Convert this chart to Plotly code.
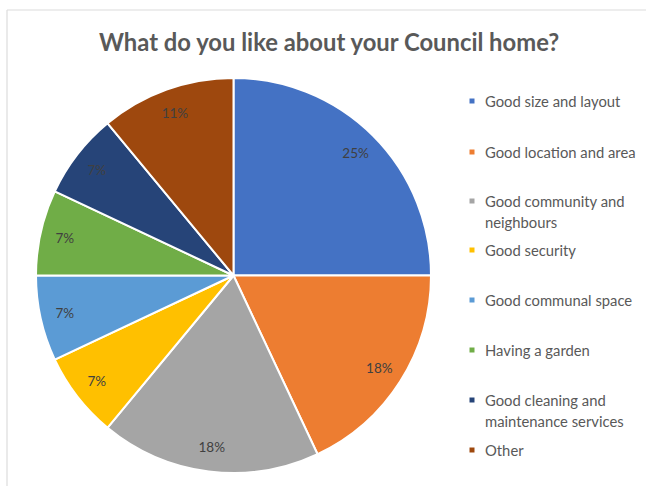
import plotly.graph_objects as go

# Survey responses: what residents like about their Council home (percent)
categories = [
    "Good size and layout",
    "Good location and area",
    "Good community and neighbours",
    "Good security",
    "Good communal space",
    "Having a garden",
    "Good cleaning and maintenance services",
    "Other",
]
legend_lines = [
    ["Good size and layout"],
    ["Good location and area"],
    ["Good community and", "neighbours"],
    ["Good security"],
    ["Good communal space"],
    ["Having a garden"],
    ["Good cleaning and", "maintenance services"],
    ["Other"],
]
shares = [25, 18, 18, 7, 7, 7, 7, 11]
colors = ["#4472C4", "#ED7D31", "#A5A5A5", "#FFC000",
          "#5B9BD5", "#70AD47", "#264478", "#9E480E"]

W, H = 646, 486
FONT = "Lato"
cx, cy, r = 233.5, 275.5, 197.5

def px(x):
    return x / W

def py(y):
    return 1 - y / H

domain = dict(x=[px(cx - r), px(cx + r)], y=[py(cy + r), py(cy - r)])

fig = go.Figure()

# Solid slices
fig.add_trace(go.Pie(
    labels=categories, values=shares, sort=False, direction="clockwise",
    rotation=0, domain=domain,
    marker=dict(colors=colors, line=dict(color="white", width=2)),
    textinfo="none", hoverinfo="label+percent", showlegend=False,
))

# Transparent ring carrying the percentage labels near the outer edge
fig.add_trace(go.Pie(
    labels=categories, values=shares, sort=False, direction="clockwise",
    rotation=0, domain=domain, hole=0.75,
    marker=dict(colors=["rgba(0,0,0,0)"] * len(shares),
                line=dict(color="rgba(0,0,0,0)", width=0)),
    texttemplate="%{value}%", textposition="inside",
    insidetextorientation="horizontal",
    textfont=dict(family=FONT, size=13.5, color="#404040"),
    hoverinfo="skip", showlegend=False,
))

# Legend drawn as marker squares and text lines
shapes = []
annotations = []
legend_y = [101, 152, 201, 250, 300, 350, 400, 450]
line_gap = 21
for lines, col, y0 in zip(legend_lines, colors, legend_y):
    shapes.append(dict(type="rect", xref="paper", yref="paper",
                       x0=px(469.5), x1=px(474.5), y0=py(y0 + 2.5), y1=py(y0 - 2.5),
                       fillcolor=col, line=dict(width=0)))
    for k, txt in enumerate(lines):
        annotations.append(dict(
            x=px(483), y=py(y0 + k * line_gap), xref="paper", yref="paper",
            xanchor="left", yanchor="middle", align="left", showarrow=False,
            text=txt, font=dict(family=FONT, size=14.8, color="#595959"),
        ))

# Chart frame (top and left edges)
shapes.append(dict(type="line", xref="paper", yref="paper",
                   x0=px(7), x1=1, y0=py(10), y1=py(10),
                   line=dict(color="#DCDCDC", width=1.2)))
shapes.append(dict(type="line", xref="paper", yref="paper",
                   x0=px(7), x1=px(7), y0=py(10), y1=0,
                   line=dict(color="#DCDCDC", width=1.2)))

annotations.append(dict(
    x=px(329), y=py(42), xref="paper", yref="paper",
    xanchor="center", yanchor="middle", showarrow=False,
    text="<b>What do you like about your Council home?</b>",
    font=dict(family=FONT, size=23.8, color="#595959"),
))

fig.update_layout(
    width=W, height=H, margin=dict(l=0, r=0, t=0, b=0),
    paper_bgcolor="white", plot_bgcolor="white",
    showlegend=False, shapes=shapes, annotations=annotations,
)

fig.write_html("out.html")
